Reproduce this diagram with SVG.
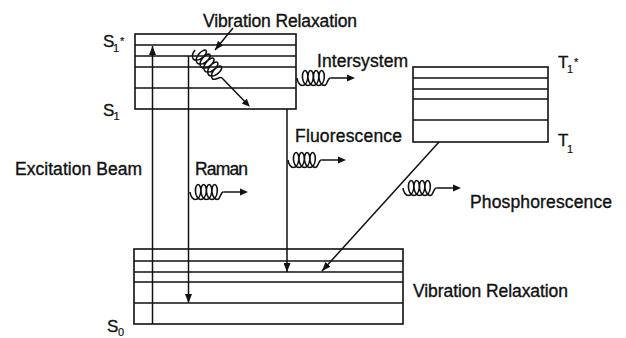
<svg xmlns="http://www.w3.org/2000/svg" xmlns:xlink="http://www.w3.org/1999/xlink" width="626" height="338" viewBox="0 0 626 338">
<style>
.box{fill:none;stroke:#111;stroke-width:1.6}
.lvl{stroke:#111;stroke-width:1.6}
.ln{fill:none;stroke:#111;stroke-width:1.5}
.coil{fill:none;stroke:#111;stroke-width:1.6}
.head{fill:#111}
.t{font-family:"Liberation Sans",Arial,Helvetica,sans-serif;font-size:17.5px;fill:#111;stroke:#111;stroke-width:0.35}
.lab{font-family:"Liberation Sans",Arial,Helvetica,sans-serif;font-size:17px;fill:#111;stroke:#111;stroke-width:0.3}
.sub{font-family:"Liberation Sans",Arial,Helvetica,sans-serif;font-size:11px;fill:#111;stroke:#111;stroke-width:0.2}
</style>
<defs>
<marker id="ah" markerUnits="userSpaceOnUse" markerWidth="9" markerHeight="7" refX="9" refY="3.5" orient="auto">
<path d="M0,0 L9,3.5 L0,7 Z" fill="#111"/>
</marker>
<path id="coil" class="coil" d="M0,0 c0.475,4.1 2.695,7.5 5.375,7.5 c2.68,0 4.895,-3.4 5.375,-7.5 c0.48,-4.1 -0.905,-7.5 -2.625,-7.5 c-1.72,0 -3.105,3.4 -2.625,7.5 c0.475,4.1 2.695,7.5 5.375,7.5 c2.68,0 4.895,-3.4 5.375,-7.5 c0.48,-4.1 -0.905,-7.5 -2.625,-7.5 c-1.72,0 -3.105,3.4 -2.625,7.5 c0.475,4.1 2.695,7.5 5.375,7.5 c2.68,0 4.895,-3.4 5.375,-7.5 c0.48,-4.1 -0.905,-7.5 -2.625,-7.5 c-1.72,0 -3.105,3.4 -2.625,7.5 c0.475,4.1 2.695,7.5 5.375,7.5 c2.68,0 4.895,-3.4 5.375,-7.5 c0.48,-4.1 -0.905,-7.5 -2.625,-7.5 c-1.72,0 -3.105,3.4 -2.625,7.5 c0.475,4.1 2.695,7.5 5.375,7.5 c3,0 3,-7.5 6,-7.5"/>
<path id="coil4" class="coil" d="M0,0 c0.475,4.1 2.695,7.5 5.375,7.5 c2.68,0 4.895,-3.4 5.375,-7.5 c0.48,-4.1 -0.905,-7.5 -2.625,-7.5 c-1.72,0 -3.105,3.4 -2.625,7.5 c0.475,4.1 2.695,7.5 5.375,7.5 c2.68,0 4.895,-3.4 5.375,-7.5 c0.48,-4.1 -0.905,-7.5 -2.625,-7.5 c-1.72,0 -3.105,3.4 -2.625,7.5 c0.475,4.1 2.695,7.5 5.375,7.5 c2.68,0 4.895,-3.4 5.375,-7.5 c0.48,-4.1 -0.905,-7.5 -2.625,-7.5 c-1.72,0 -3.105,3.4 -2.625,7.5 c0.475,4.1 2.695,7.5 5.375,7.5 c2.68,0 4.895,-3.4 5.375,-7.5 c0.48,-4.1 -0.905,-7.5 -2.625,-7.5 c-1.72,0 -3.105,3.4 -2.625,7.5 c0.475,4.1 2.695,7.5 5.375,7.5 c2.68,0 4.895,-3.4 5.375,-7.5 c0.48,-4.1 -0.905,-7.5 -2.625,-7.5 c-1.72,0 -3.105,3.4 -2.625,7.5 c0.475,4.1 2.695,7.5 5.375,7.5 c3,0 3,-7.5 6,-7.5"/>
<g id="coilArrow">
<use xlink:href="#coil" href="#coil"/>
<path class="ln" d="M33.375,0 H51"/>
<polygon class="head" points="50,-3.5 58,0 50,3.5"/>
</g>
</defs>

<g id="node-S1">
<rect class="box" x="135" y="34" width="161" height="75"/>
<line class="lvl" x1="135" y1="45" x2="296" y2="45"/>
<line class="lvl" x1="135" y1="56" x2="296" y2="56"/>
<line class="lvl" x1="135" y1="67" x2="296" y2="67"/>
<line class="lvl" x1="135" y1="88" x2="296" y2="88"/>
<text class="lab" x="103" y="47">S</text><text class="sub" x="113" y="52">1</text><text class="sub" x="120" y="45">*</text>
<text class="lab" x="103" y="116">S</text><text class="sub" x="113.5" y="120">1</text>
</g>

<g id="node-T1">
<rect class="box" x="413" y="67" width="135" height="75"/>
<line class="lvl" x1="413" y1="78" x2="548" y2="78"/>
<line class="lvl" x1="413" y1="89" x2="548" y2="89"/>
<line class="lvl" x1="413" y1="99" x2="548" y2="99"/>
<line class="lvl" x1="413" y1="120" x2="548" y2="120"/>
<text class="lab" x="558" y="68">T</text><text class="sub" x="567" y="73">1</text><text class="sub" x="574" y="66">*</text>
<text class="lab" x="558" y="146">T</text><text class="sub" x="567" y="153">1</text>
</g>

<g id="node-S0">
<rect class="box" x="134" y="249" width="269" height="75"/>
<line class="lvl" x1="134" y1="261" x2="403" y2="261"/>
<line class="lvl" x1="134" y1="272" x2="403" y2="272"/>
<line class="lvl" x1="134" y1="282" x2="403" y2="282"/>
<line class="lvl" x1="134" y1="303" x2="403" y2="303"/>
<text class="lab" x="107" y="332">S</text><text class="sub" x="118" y="336">0</text>
</g>

<g id="connectors">
<line class="ln" x1="152.5" y1="324" x2="152.5" y2="46" marker-end="url(#ah)"/>
<line class="ln" x1="188.5" y1="56" x2="188.5" y2="303" marker-end="url(#ah)"/>
<line class="ln" x1="287" y1="109" x2="287" y2="272" marker-end="url(#ah)"/>
<line class="ln" x1="439" y1="142" x2="322" y2="271" marker-end="url(#ah)"/>
<line class="ln" x1="233" y1="28" x2="215" y2="50" marker-end="url(#ah)"/>
<g transform="translate(195,50) rotate(46)">
<use xlink:href="#coil4" href="#coil4"/>
<path class="ln" d="M38.875,0 H72"/>
<polygon class="head" points="71,-3.5 79,0 71,3.5"/>
</g>
<use xlink:href="#coilArrow" href="#coilArrow" transform="translate(297,78)"/>
<use xlink:href="#coilArrow" href="#coilArrow" transform="translate(288,160)"/>
<use xlink:href="#coilArrow" href="#coilArrow" transform="translate(190,192)"/>
<use xlink:href="#coilArrow" href="#coilArrow" transform="translate(403,188)"/>
</g>

<g id="labels">
<text class="t" x="203" y="27" textLength="154">Vibration Relaxation</text>
<text class="t" x="317" y="67" textLength="91">Intersystem</text>
<text class="t" x="295" y="142" textLength="107">Fluorescence</text>
<text class="t" x="15" y="175" textLength="127">Excitation Beam</text>
<text class="t" x="195" y="175" textLength="53">Raman</text>
<text class="t" x="470" y="208" textLength="142">Phosphorescence</text>
<text class="t" x="413" y="297" textLength="155">Vibration Relaxation</text>
</g>
</svg>
